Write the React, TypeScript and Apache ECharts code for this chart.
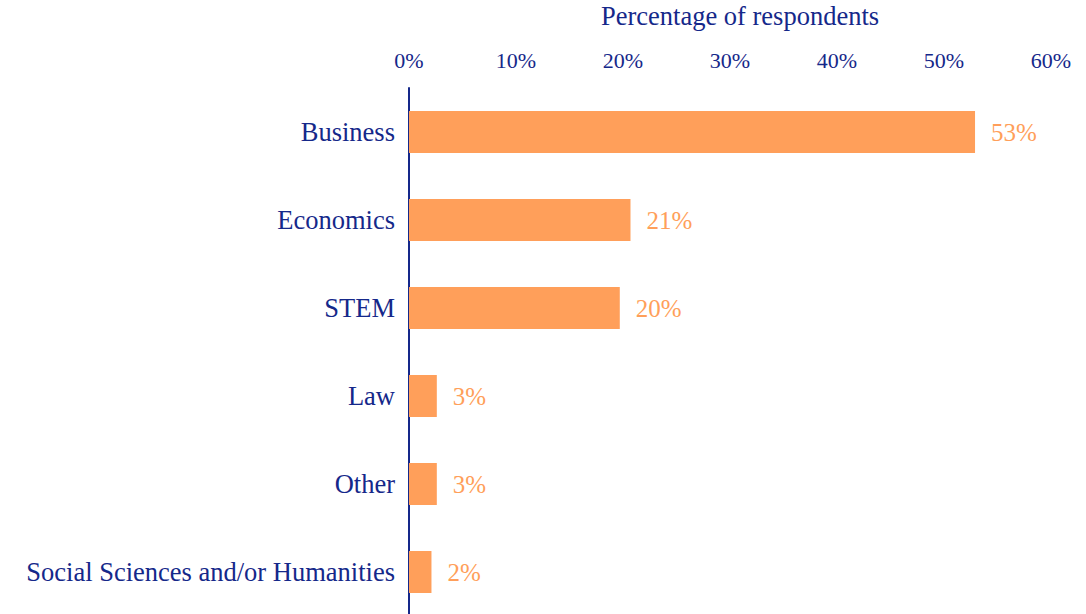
import React, { useEffect, useRef } from "react";
import * as echarts from "echarts";

const categories = [
  "Business",
  "Economics",
  "STEM",
  "Law",
  "Other",
  "Social Sciences and/or Humanities",
];
const values = [52.9, 20.7, 19.7, 2.6, 2.6, 2.1];
const axisTicks = [0, 10, 20, 30, 40, 50, 60];
const axisTitle = "Percentage of respondents";

const NAVY = "#15288A";
const ORANGE = "#FF9F5A";
const FONT = "'Liberation Serif', 'Times New Roman', serif";

export default function App() {
  const ref = useRef<HTMLDivElement>(null);
  useEffect(() => {
    document.body.style.margin = "0";
    const chart = echarts.init(ref.current!, null, { renderer: "svg" });
    chart.setOption({
      animation: false,
      grid: {
        left: 409,
        right: 35,
        top: 88,
        bottom: -2,
        containLabel: false,
        outerBoundsMode: "none",
      },
      xAxis: {
        type: "value",
        position: "top",
        min: axisTicks[0],
        max: axisTicks[axisTicks.length - 1],
        interval: 10,
        name: axisTitle,
        nameLocation: "middle",
        nameGap: 59,
        nameTextStyle: {
          color: NAVY,
          fontFamily: FONT,
          fontSize: 26.5,
          padding: [0, 0, 0, 20],
        },
        axisLine: { show: false },
        axisTick: { show: false },
        splitLine: { show: false },
        axisLabel: {
          color: NAVY,
          fontFamily: FONT,
          fontSize: 22,
          margin: 17,
          formatter: (v: number) => `${v}%`,
        },
      },
      yAxis: {
        type: "category",
        inverse: true,
        data: categories,
        axisLine: { show: true, lineStyle: { color: NAVY, width: 2 } },
        axisTick: { show: false },
        axisLabel: { color: NAVY, fontFamily: FONT, fontSize: 26.5, margin: 14 },
      },
      series: [
        {
          type: "bar",
          data: values,
          barWidth: 42,
          itemStyle: { color: ORANGE },
          label: {
            show: true,
            position: "right",
            distance: 16,
            color: ORANGE,
            fontFamily: FONT,
            fontSize: 25,
            formatter: (p: any) => `${Math.round(p.value)}%`,
          },
        },
      ],
    });
    return () => chart.dispose();
  }, []);
  return <div ref={ref} style={{ width: 1086, height: 614 }} />;
}
